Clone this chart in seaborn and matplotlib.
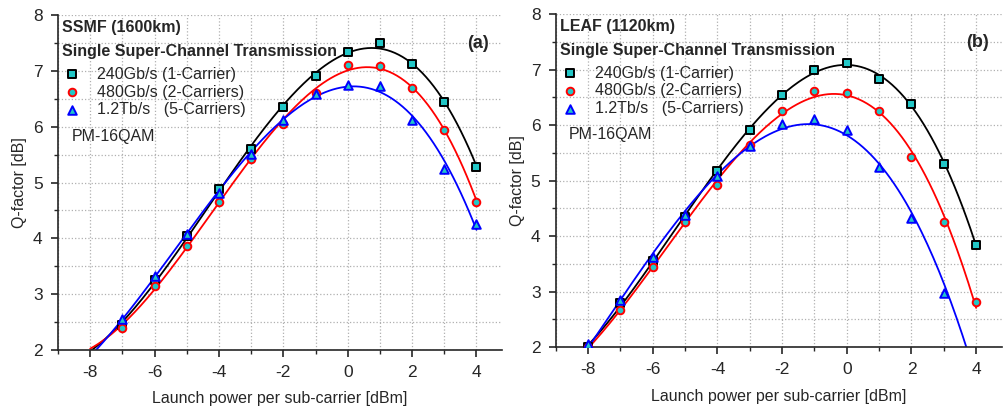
import matplotlib
matplotlib.use("Agg")
import matplotlib.pyplot as plt
from matplotlib.ticker import MultipleLocator
import seaborn as sns
import numpy as np
import pandas as pd

sns.set_style("ticks")
plt.rcParams['font.family'] = ['Liberation Sans', 'DejaVu Sans']
plt.rcParams['axes.unicode_minus'] = False

# launch power per sub-carrier [dBm]
power_a = [-7, -6, -5, -4, -3, -2, -1, 0, 1, 2, 3, 4]
power_b = [-8, -7, -6, -5, -4, -3, -2, -1, 0, 1, 2, 3, 4]

# (a) SSMF 1600 km, Q-factor [dB]
q_a_240g = [2.45, 3.25, 4.05, 4.88, 5.60, 6.35, 6.90, 7.33, 7.50, 7.12, 6.45, 5.28]
q_a_480g = [2.40, 3.15, 3.87, 4.66, 5.42, 6.05, 6.60, 7.10, 7.08, 6.70, 5.95, 4.66]
q_a_1t2 = [2.55, 3.33, 4.08, 4.82, 5.52, 6.12, 6.58, 6.75, 6.73, 6.12, 5.25, 4.25]

# (b) LEAF 1120 km, Q-factor [dB]
q_b_240g = [2.00, 2.80, 3.55, 4.35, 5.17, 5.92, 6.55, 7.00, 7.13, 6.83, 6.38, 5.30, 3.85]
q_b_480g = [2.00, 2.67, 3.45, 4.25, 4.93, 5.65, 6.25, 6.62, 6.58, 6.26, 5.43, 4.25, 2.82]
q_b_1t2 = [2.05, 2.85, 3.63, 4.38, 5.08, 5.62, 6.02, 6.12, 5.92, 5.25, 4.32, 2.97, 1.60]

labels = ["240Gb/s (1-Carrier)", "480Gb/s (2-Carriers)", "1.2Tb/s   (5-Carriers)"]
edge_colors = ["black", "red", "blue"]
marker_shapes = ["s", "o", "^"]
marker_sizes = [26, 30, 38]
fill = "#22c7c7"

panels = [
    ("SSMF (1600km)", "(a)", power_a, [q_a_240g, q_a_480g, q_a_1t2]),
    ("LEAF (1120km)", "(b)", power_b, [q_b_240g, q_b_480g, q_b_1t2]),
]

fig = plt.figure(figsize=(10.05, 4.07), dpi=100)
axes = [fig.add_axes([0.0577, 0.140, 0.442, 0.823]),
        fig.add_axes([0.553, 0.147, 0.444, 0.818])]

for ax, (fiber, tag, power, series) in zip(axes, panels):
    xfit = np.linspace(-8, 4, 200)
    for q, ec in zip(series, edge_colors):
        coef = np.polyfit(power, q, 3)
        fit = pd.DataFrame({"p": xfit, "q": np.polyval(coef, xfit)})
        sns.lineplot(data=fit, x="p", y="q", color=ec, lw=1.3, ax=ax, zorder=2)
    for q, lab, ec, mk, ms in zip(series, labels, edge_colors, marker_shapes, marker_sizes):
        df = pd.DataFrame({"p": power, "q": q})
        sns.scatterplot(data=df, x="p", y="q", marker=mk, s=ms, color=fill,
                        edgecolor=ec, linewidth=1.4, label=lab, ax=ax, zorder=3)

    ax.set_xlim(-9, 4.8)
    ax.set_ylim(2, 8)
    ax.xaxis.set_major_locator(MultipleLocator(2))
    ax.xaxis.set_minor_locator(MultipleLocator(1))
    ax.yaxis.set_major_locator(MultipleLocator(1))
    ax.yaxis.set_minor_locator(MultipleLocator(0.5))
    ax.grid(which="both", ls=":", color="#b0b0b0", lw=0.9)
    ax.set_axisbelow(True)
    sns.despine(ax=ax)
    ax.tick_params(which="major", direction="out", length=5, width=1.2,
                   labelsize=12.5, pad=6)
    ax.tick_params(which="minor", direction="out", length=3, width=1.0)
    for s in ["left", "bottom"]:
        ax.spines[s].set_linewidth(1.2)
    ax.set_xlabel("Launch power per sub-carrier [dBm]", fontsize=11.5, labelpad=8)
    ax.set_ylabel("Q-factor [dB]", fontsize=11.5)

    ax.text(0.01, 0.985, fiber, transform=ax.transAxes, fontsize=11.5,
            fontweight="bold", va="top", ha="left")
    ax.text(0.01, 0.915, "Single Super-Channel Transmission", transform=ax.transAxes,
            fontsize=11.5, fontweight="bold", va="top", ha="left")
    ax.text(0.97, 0.94, tag, transform=ax.transAxes, fontsize=13,
            fontweight="bold", va="top", ha="right")
    ax.text(0.03, 0.66, "PM-16QAM", transform=ax.transAxes, fontsize=11.5,
            va="top", ha="left")
    ax.legend(loc="upper left", bbox_to_anchor=(-0.005, 0.865), frameon=False,
              fontsize=11.5, handletextpad=1.0, labelspacing=0.18,
              borderaxespad=0, handlelength=1.2)

fig.savefig("out.png", dpi=100)
